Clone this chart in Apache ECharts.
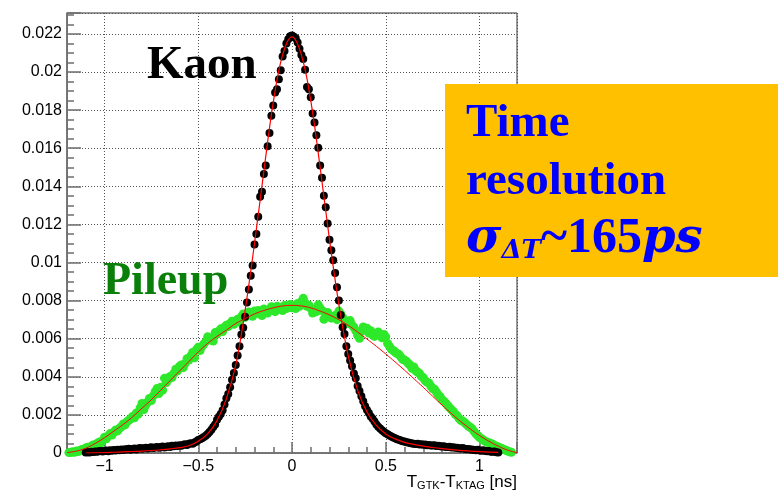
<!DOCTYPE html>
<html>
<head>
<meta charset="utf-8">
<script src="https://cdn.jsdelivr.net/npm/echarts@6/dist/echarts.min.js"></script>
<style>
  html, body { margin: 0; padding: 0; background: #fff; }
  #chart { width: 778px; height: 493px; }
</style>
</head>
<body>
<div id="chart"></div>
<script>
// Histogram binning (ns)
const binWidth = 0.01;

// Kaon time-difference histogram, bin centres from -1.10 ns
const kaonFirstBin = -1.10;
const kaonCounts = [
  0.00002, 0.00004, 0.00003, 0.00006, 0.00005, 0.00008, 0.00006, 0.00009, 0.00011, 0.00008,
  0.00010, 0.00013, 0.00009, 0.00014, 0.00012, 0.00016, 0.00013, 0.00017, 0.00015, 0.00019,
  0.00016, 0.00020, 0.00018, 0.00022, 0.00017, 0.00021, 0.00024, 0.00019, 0.00023, 0.00026,
  0.00022, 0.00025, 0.00028, 0.00024, 0.00027, 0.00030, 0.00026, 0.00029, 0.00032, 0.00028,
  0.00031, 0.00034, 0.00029, 0.00033, 0.00036, 0.00032, 0.00038, 0.00035, 0.00039, 0.00037,
  0.00041, 0.00038, 0.00043, 0.00046, 0.00042, 0.00048, 0.00051, 0.00049, 0.00055, 0.00060,
  0.00068, 0.00072, 0.00078, 0.00084, 0.00091, 0.00100, 0.00110, 0.00122, 0.00136, 0.00150,
  0.00175, 0.00190, 0.00205, 0.00225, 0.00255, 0.00288, 0.00310, 0.00345, 0.00385, 0.00420,
  0.00462, 0.00512, 0.00560, 0.00622, 0.00658, 0.00715, 0.00790, 0.00858, 0.00930, 0.00985,
  0.01095, 0.01150, 0.01240, 0.01345, 0.01372, 0.01465, 0.01510, 0.01610, 0.01680, 0.01770,
  0.01825, 0.01892, 0.01910, 0.01962, 0.02010, 0.02082, 0.02110, 0.02150, 0.02172, 0.02188,
  0.02192, 0.02185, 0.02178, 0.02155, 0.02122, 0.02090, 0.02068, 0.02012, 0.01922, 0.01910,
  0.01868, 0.01782, 0.01735, 0.01668, 0.01602, 0.01510, 0.01445, 0.01350, 0.01290, 0.01205,
  0.01120, 0.01065, 0.01012, 0.00945, 0.00870, 0.00800, 0.00725, 0.00660, 0.00625, 0.00560,
  0.00520, 0.00486, 0.00455, 0.00418, 0.00392, 0.00352, 0.00325, 0.00298, 0.00272, 0.00245,
  0.00226, 0.00210, 0.00192, 0.00180, 0.00165, 0.00150, 0.00138, 0.00128, 0.00120, 0.00112,
  0.00104, 0.00098, 0.00092, 0.00086, 0.00081, 0.00078, 0.00072, 0.00069, 0.00066, 0.00062,
  0.00060, 0.00057, 0.00055, 0.00053, 0.00050, 0.00049, 0.00047, 0.00048, 0.00045, 0.00046,
  0.00043, 0.00044, 0.00041, 0.00042, 0.00040, 0.00039, 0.00041, 0.00037, 0.00038, 0.00035,
  0.00034, 0.00036, 0.00032, 0.00031, 0.00033, 0.00029, 0.00030, 0.00027, 0.00028, 0.00025,
  0.00024, 0.00026, 0.00022, 0.00020, 0.00021, 0.00018, 0.00019, 0.00016, 0.00015, 0.00017,
  0.00013, 0.00012, 0.00014, 0.00010, 0.00009, 0.00011, 0.00007, 0.00006, 0.00008, 0.00004, 0.00003
];

// Pileup time-difference histogram, bin centres from -1.19 ns
const pileupFirstBin = -1.19;
const pileupCounts = [
  0.00002, 0.00003, 0.00006, 0.00004, 0.00010, 0.00008, 0.00014, 0.00019, 0.00016, 0.00026,
  0.00030, 0.00028, 0.00036, 0.00042, 0.00039, 0.00050, 0.00056, 0.00052, 0.00066, 0.00083,
  0.00075, 0.00090, 0.00102, 0.00094, 0.00110, 0.00121, 0.00116, 0.00130, 0.00138, 0.00152,
  0.00148, 0.00165, 0.00172, 0.00180, 0.00192, 0.00185, 0.00210, 0.00205, 0.00236, 0.00260,
  0.00228, 0.00252, 0.00268, 0.00286, 0.00275, 0.00300, 0.00322, 0.00338, 0.00312, 0.00345,
  0.00330, 0.00392, 0.00370, 0.00385, 0.00402, 0.00396, 0.00418, 0.00440, 0.00432, 0.00455,
  0.00462, 0.00448, 0.00470, 0.00495, 0.00488, 0.00510, 0.00528, 0.00500, 0.00542, 0.00555,
  0.00538, 0.00560, 0.00572, 0.00585, 0.00610, 0.00596, 0.00604, 0.00588, 0.00632, 0.00625,
  0.00640, 0.00652, 0.00638, 0.00660, 0.00671, 0.00664, 0.00680, 0.00692, 0.00676, 0.00690,
  0.00702, 0.00688, 0.00716, 0.00730, 0.00712, 0.00724, 0.00740, 0.00732, 0.00718, 0.00745,
  0.00738, 0.00748, 0.00730, 0.00722, 0.00756, 0.00744, 0.00735, 0.00752, 0.00768, 0.00760,
  0.00742, 0.00770, 0.00755, 0.00762, 0.00748, 0.00775, 0.00758, 0.00766, 0.00780, 0.00762,
  0.00772, 0.00758, 0.00785, 0.00770, 0.00795, 0.00812, 0.00788, 0.00770, 0.00776, 0.00760,
  0.00735, 0.00752, 0.00742, 0.00778, 0.00760, 0.00748, 0.00702, 0.00725, 0.00738, 0.00720,
  0.00708, 0.00715, 0.00722, 0.00700, 0.00745, 0.00730, 0.00712, 0.00698, 0.00685, 0.00680,
  0.00695, 0.00672, 0.00660, 0.00642, 0.00618, 0.00602, 0.00638, 0.00662, 0.00648, 0.00655,
  0.00630, 0.00642, 0.00620, 0.00612, 0.00628, 0.00635, 0.00618, 0.00605, 0.00622, 0.00610,
  0.00575, 0.00560, 0.00545, 0.00538, 0.00530, 0.00522, 0.00518, 0.00505, 0.00492, 0.00488,
  0.00482, 0.00470, 0.00462, 0.00445, 0.00452, 0.00432, 0.00425, 0.00418, 0.00402, 0.00395,
  0.00380, 0.00372, 0.00368, 0.00352, 0.00338, 0.00335, 0.00320, 0.00305, 0.00296, 0.00280,
  0.00272, 0.00262, 0.00250, 0.00238, 0.00228, 0.00218, 0.00205, 0.00196, 0.00182, 0.00172,
  0.00168, 0.00160, 0.00150, 0.00142, 0.00135, 0.00128, 0.00115, 0.00102, 0.00092, 0.00082,
  0.00075, 0.00068, 0.00062, 0.00058, 0.00054, 0.00050, 0.00046, 0.00040, 0.00036, 0.00031,
  0.00027, 0.00023, 0.00019, 0.00014, 0.00010, 0.00006, 0.00004
];

// Fitted curves, sampled every 0.05 ns
const fitStep = 0.05;
const kaonFitStart = -1.10;
const kaonFit = [
  0.00000, 0.00001, 0.00002, 0.00004, 0.00006, 0.00008, 0.00010, 0.00013, 0.00017, 0.00022,
  0.00028, 0.00038, 0.00062, 0.00100, 0.00170, 0.00285, 0.00462, 0.00750, 0.01100, 0.01480,
  0.01840, 0.02090, 0.02185, 0.02090, 0.01850, 0.01500, 0.01120, 0.00780, 0.00510, 0.00330,
  0.00215, 0.00145, 0.00100, 0.00074, 0.00056, 0.00045, 0.00036, 0.00029, 0.00023, 0.00018,
  0.00014, 0.00010, 0.00007, 0.00005, 0.00003
];
const pileupFitStart = -1.20;
const pileupFit = [
  0.00002, 0.00010, 0.00025, 0.00050, 0.00080, 0.00115, 0.00150, 0.00190, 0.00235, 0.00280,
  0.00330, 0.00380, 0.00430, 0.00480, 0.00530, 0.00575, 0.00612, 0.00645, 0.00680, 0.00705,
  0.00730, 0.00748, 0.00762, 0.00772, 0.00775, 0.00772, 0.00762, 0.00745, 0.00725, 0.00700,
  0.00670, 0.00635, 0.00598, 0.00560, 0.00520, 0.00478, 0.00435, 0.00390, 0.00345, 0.00298,
  0.00252, 0.00207, 0.00165, 0.00127, 0.00092, 0.00062, 0.00036, 0.00015, 0.00002
];

// Axis ranges
const xRange = [-1.2, 1.2];
const yRange = [0, 0.0231];
const yStep = 0.002;

function toPoints(start, step, values) {
  return values.map((v, i) => [+(start + i * step).toFixed(4), v]);
}

const axisGrey = '#6e6e6e';
const gridDots = { color: '#555', width: 1, type: [1, 2] };
const tickFont = { fontFamily: '"Liberation Sans", Arial, sans-serif', fontSize: 16, color: '#000' };

const chart = echarts.init(document.getElementById('chart'), null, { renderer: 'canvas' });

chart.setOption({
  animation: false,
  backgroundColor: '#ffffff',
  grid: {
    left: 67, right: 261, top: 13, bottom: 40,
    show: true, borderColor: '#333', borderWidth: 1, backgroundColor: 'transparent'
  },
  xAxis: {
    type: 'value',
    min: xRange[0], max: xRange[1],
    splitNumber: 5,
    axisLine: { onZero: false, lineStyle: { color: axisGrey, width: 1.5 } },
    axisTick: { inside: true, length: 11, lineStyle: { color: axisGrey, width: 1.5 } },
    minorTick: { show: true, splitNumber: 5, length: 6, lineStyle: { color: axisGrey, width: 1.5 } },
    splitLine: { show: true, lineStyle: gridDots },
    axisLabel: Object.assign({
      margin: 6,
      showMinLabel: false, showMaxLabel: false,
      formatter: v => String(+v.toFixed(3)).replace('-', '\u2212')
    }, tickFont)
  },
  yAxis: {
    type: 'value',
    min: yRange[0], max: yRange[1],
    interval: yStep,
    axisLine: { show: true, onZero: false, lineStyle: { color: axisGrey, width: 1.5 } },
    axisTick: { inside: true, length: 14, lineStyle: { color: axisGrey, width: 1.5 } },
    minorTick: { show: true, splitNumber: 4, length: 7, lineStyle: { color: axisGrey, width: 1.5 } },
    splitLine: { show: true, lineStyle: gridDots },
    axisLabel: Object.assign({
      margin: 5,
      showMaxLabel: false,
      formatter: v => String(+v.toFixed(4))
    }, tickFont)
  },
  series: [
    {
      name: 'Pileup',
      type: 'scatter',
      data: toPoints(pileupFirstBin, binWidth, pileupCounts),
      symbol: 'circle', symbolSize: 9,
      itemStyle: { color: '#2ee82a', opacity: 1 },
      z: 2
    },
    {
      name: 'Kaon',
      type: 'scatter',
      data: toPoints(kaonFirstBin, binWidth, kaonCounts),
      symbol: 'circle', symbolSize: 8,
      itemStyle: { color: '#000000', opacity: 1 },
      z: 3
    },
    {
      name: 'Pileup fit',
      type: 'line',
      data: toPoints(pileupFitStart, fitStep, pileupFit),
      smooth: 0.4, showSymbol: false,
      lineStyle: { color: '#ff0000', width: 1 },
      z: 4
    },
    {
      name: 'Kaon fit',
      type: 'line',
      data: toPoints(kaonFitStart, fitStep, kaonFit),
      smooth: 0.4, showSymbol: false,
      lineStyle: { color: '#ff0000', width: 1.2 },
      z: 4
    }
  ],
  graphic: [
    {
      type: 'text', x: 147, y: 66, z: 100,
      style: { text: 'Kaon', font: 'bold 47px "Liberation Serif", serif', fill: '#000', align: 'left', verticalAlign: 'middle' }
    },
    {
      type: 'text', x: 103, y: 282, z: 100,
      style: { text: 'Pileup', font: 'bold 46px "Liberation Serif", serif', fill: '#0a800a', align: 'left', verticalAlign: 'middle' }
    },
    {
      type: 'rect', z: 100,
      shape: { x: 445, y: 84, width: 333, height: 193 },
      style: { fill: '#ffc000' }
    },
    {
      type: 'text', x: 466, y: 124, z: 101,
      style: { text: 'Time', font: 'bold 47px "Liberation Serif", serif', fill: '#0000ff', align: 'left', verticalAlign: 'middle' }
    },
    {
      type: 'text', x: 466, y: 182, z: 101,
      style: { text: 'resolution', font: 'bold 47px "Liberation Serif", serif', fill: '#0000ff', align: 'left', verticalAlign: 'middle' }
    },
    {
      type: 'text', x: 466, y: 264, z: 101,
      style: {
        text: '{g|\u03c3}{sub|\u0394T}{n|~165}{g|ps}',
        align: 'left', verticalAlign: 'bottom',
        rich: {
          g: { fontFamily: '"DejaVu Serif", serif', fontWeight: 'bold', fontStyle: 'italic', fontSize: 48, lineHeight: 48, fill: '#0000ff', verticalAlign: 'bottom' },
          n: { fontFamily: '"Liberation Serif", serif', fontWeight: 'bold', fontSize: 50, lineHeight: 48, fill: '#0000ff', verticalAlign: 'bottom' },
          sub: { fontFamily: '"DejaVu Serif", serif', fontWeight: 'bold', fontStyle: 'italic', fontSize: 26, lineHeight: 10, fill: '#0000ff', verticalAlign: 'bottom' }
        }
      }
    },
    {
      type: 'text', x: 517, y: 491, z: 101,
      style: {
        text: '{t|T}{s|GTK}{t|-T}{s|KTAG}{t| [ns]}',
        align: 'right', verticalAlign: 'bottom',
        rich: {
          t: { fontFamily: '"Liberation Sans", Arial, sans-serif', fontSize: 17, lineHeight: 17, fill: '#000', verticalAlign: 'bottom' },
          s: { fontFamily: '"Liberation Sans", Arial, sans-serif', fontSize: 11, lineHeight: 5, fill: '#000', verticalAlign: 'bottom' }
        }
      }
    }
  ]
});
</script>
</body>
</html>
